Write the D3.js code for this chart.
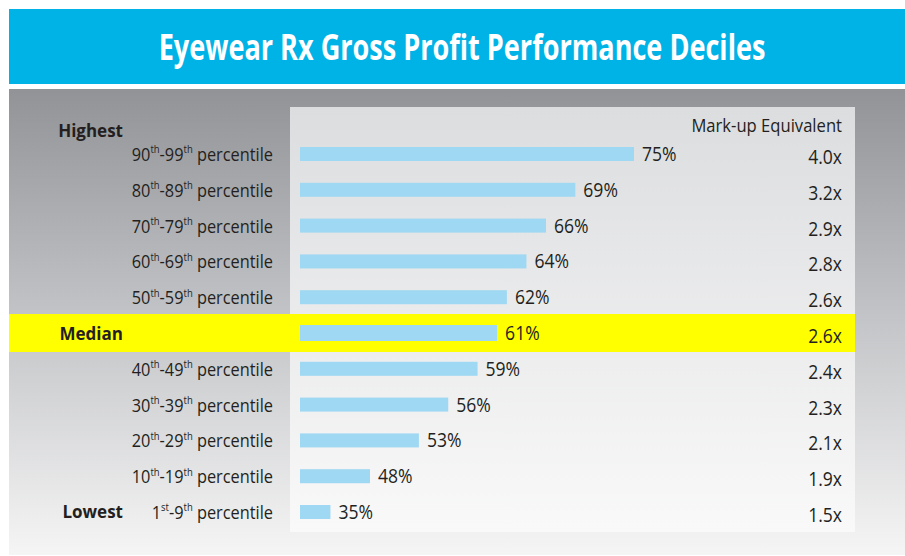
<!DOCTYPE html>
<html>
<head>
<meta charset="utf-8">
<script src="https://cdn.jsdelivr.net/npm/d3@7"></script>
<style>
  html, body { margin: 0; padding: 0; background: #ffffff; }
  svg { display: block; }
</style>
</head>
<body>
<svg id="chart"></svg>
<script>
const chartTitle = "Eyewear Rx Gross Profit Performance Deciles";
const rowLabels = [
  "90th-99th percentile", "80th-89th percentile", "70th-79th percentile",
  "60th-69th percentile", "50th-59th percentile", "Median",
  "40th-49th percentile", "30th-39th percentile", "20th-29th percentile",
  "10th-19th percentile", "1st-9th percentile"
];
const grossProfit = [75, 69, 66, 64, 62, 61, 59, 56, 53, 48, 35];
const markup = [4.0, 3.2, 2.9, 2.8, 2.6, 2.6, 2.4, 2.3, 2.1, 1.9, 1.5];
const markupHeader = "Mark-up Equivalent";
const highLabel = "Highest";
const lowLabel = "Lowest";

const width = 905;
const height = 556;
const textColor = "#231f20";
const font = "'Open Sans', 'DejaVu Sans', sans-serif";

const svg = d3.select("#chart")
  .attr("width", width)
  .attr("height", height);

// gradients
const defs = svg.append("defs");
const outerGrad = defs.append("linearGradient")
  .attr("id", "outerGrad").attr("x1", 0).attr("y1", 0).attr("x2", 0).attr("y2", 1);
outerGrad.append("stop").attr("offset", "0%").attr("stop-color", "#929397");
outerGrad.append("stop").attr("offset", "50%").attr("stop-color", "#c4c5c8");
outerGrad.append("stop").attr("offset", "100%").attr("stop-color", "#f5f5f5");

const innerGrad = defs.append("linearGradient")
  .attr("id", "innerGrad").attr("x1", 0).attr("y1", 0).attr("x2", 0).attr("y2", 1);
innerGrad.append("stop").attr("offset", "0%").attr("stop-color", "#dcdddf");
innerGrad.append("stop").attr("offset", "100%").attr("stop-color", "#f9f9f9");

// the original uses a condensed face, so squeeze text horizontally
const squeeze = (px, py, k) => `translate(${px},${py}) scale(${k},1)`;

// title bar
svg.append("rect")
  .attr("x", 9).attr("y", 9)
  .attr("width", width - 9).attr("height", 75)
  .attr("fill", "#00b3e7");

const title = svg.append("text")
  .attr("text-anchor", "middle")
  .attr("font-family", font)
  .attr("font-weight", "bold")
  .attr("font-size", "36px")
  .attr("fill", "#ffffff")
  .text(chartTitle);
const titleLen = title.node().getComputedTextLength();
title.attr("transform", squeeze(462, 60, 607 / titleLen));

// panels
svg.append("rect")
  .attr("x", 9).attr("y", 89)
  .attr("width", width - 9).attr("height", 466)
  .attr("fill", "url(#outerGrad)");

svg.append("rect")
  .attr("x", 290).attr("y", 107)
  .attr("width", 565).attr("height", 425)
  .attr("fill", "url(#innerGrad)");

// scales
const y = d3.scalePoint()
  .domain(d3.range(rowLabels.length))
  .range([154, 512]);

// bars in the original are not drawn to a single linear scale,
// lower values are squeezed, so use a two-piece linear scale
const x = d3.scaleLinear()
  .domain([25, 48, 75])
  .range([300, 370, 634]);

const medianIdx = rowLabels.indexOf("Median");

// median highlight
svg.append("rect")
  .attr("x", 9).attr("y", y(medianIdx) - 19)
  .attr("width", 846).attr("height", 38)
  .attr("fill", "#ffff00");

// bars
svg.selectAll(".bar")
  .data(grossProfit)
  .join("rect")
  .attr("class", "bar")
  .attr("x", x.range()[0])
  .attr("y", (d, i) => y(i) - (i === medianIdx ? 8 : 7))
  .attr("width", d => x(d) - x.range()[0])
  .attr("height", (d, i) => i === medianIdx ? 16 : 14)
  .attr("fill", "#9fd8f2");

// value labels
svg.selectAll(".pct")
  .data(grossProfit)
  .join("text")
  .attr("class", "pct")
  .attr("transform", (d, i) => squeeze(x(d) + 8, y(i) + 7, 0.9))
  .attr("font-family", font)
  .attr("font-size", "19.5px")
  .attr("fill", textColor)
  .text(d => d + "%");

// mark-up column
const fmt = d3.format(".1f");
svg.selectAll(".markup")
  .data(markup)
  .join("text")
  .attr("class", "markup")
  .attr("transform", (d, i) => squeeze(842, y(i) + 10, 0.9))
  .attr("text-anchor", "end")
  .attr("font-family", font)
  .attr("font-size", "19.5px")
  .attr("fill", textColor)
  .text(d => fmt(d) + "x");

svg.append("text")
  .attr("transform", squeeze(842, 132, 0.95))
  .attr("text-anchor", "end")
  .attr("font-family", font)
  .attr("font-size", "17.5px")
  .attr("fill", textColor)
  .text(markupHeader);

// row labels with superscript ordinals
const rowText = svg.selectAll(".rowlabel")
  .data(rowLabels.map((d, i) => ({ label: d, i })).filter(d => d.i !== medianIdx))
  .join("text")
  .attr("class", "rowlabel")
  .attr("transform", d => squeeze(273, y(d.i) + 7, 0.86))
  .attr("text-anchor", "end")
  .attr("font-family", font)
  .attr("font-size", "19px")
  .attr("fill", textColor);

rowText.each(function(d) {
  const t = d3.select(this);
  const parts = d.label.split(/(\d+)(st|nd|rd|th)/).filter(p => p !== "");
  parts.forEach(p => {
    const ts = t.append("tspan").text(p);
    if (/^(st|nd|rd|th)$/.test(p)) {
      ts.attr("font-size", "11px").attr("baseline-shift", "7px");
    }
  });
});

// bold side labels
const side = [
  { text: highLabel, y: 137 },
  { text: "Median", y: y(medianIdx) + 7 },
  { text: lowLabel, y: y(rowLabels.length - 1) + 6 }
];
svg.selectAll(".side")
  .data(side)
  .join("text")
  .attr("class", "side")
  .attr("x", 123)
  .attr("y", d => d.y)
  .attr("text-anchor", "end")
  .attr("font-family", font)
  .attr("font-weight", "bold")
  .attr("font-size", "17px")
  .attr("fill", textColor)
  .text(d => d.text);
</script>
</body>
</html>
